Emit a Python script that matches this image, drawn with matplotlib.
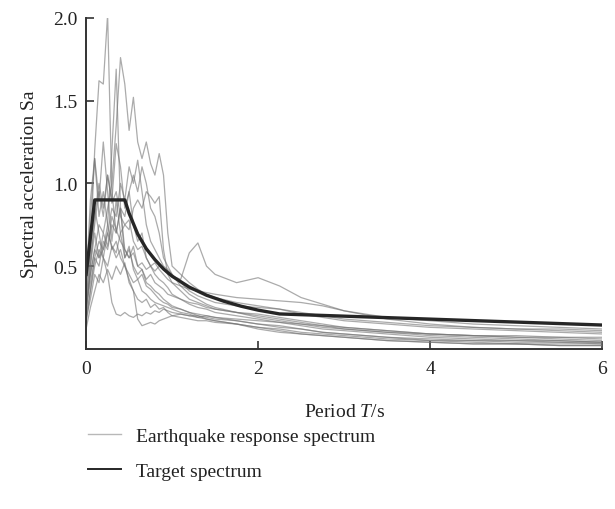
import numpy as np
import matplotlib
matplotlib.use('Agg')
import matplotlib.pyplot as plt
from matplotlib.lines import Line2D

plt.rcParams['font.family'] = ['Liberation Serif', 'DejaVu Serif']
plt.rcParams['mathtext.fontset'] = 'custom'
plt.rcParams['mathtext.rm'] = 'Liberation Serif'
plt.rcParams['mathtext.it'] = 'Liberation Serif:italic'

# period grid shared by the recorded response spectra (s)
periods = [0, 0.05, 0.1, 0.15, 0.2, 0.25, 0.3, 0.35, 0.4, 0.45, 0.5, 0.55, 0.6, 0.65,
           0.7, 0.75, 0.8, 0.85, 0.9, 0.95, 1.0, 1.1, 1.2, 1.3, 1.4, 1.5, 1.75, 2.0,
           2.25, 2.5, 2.75, 3.0, 3.5, 4.0, 4.5, 5.0, 5.5, 6.0]

# spectral acceleration of each earthquake record
eq01 = [0.30, 0.60, 1.20, 1.62, 1.60, 2.02, 0.95, 0.70, 0.85, 0.60, 0.55, 0.62, 0.50, 0.48,
        0.42, 0.45, 0.40, 0.38, 0.36, 0.33, 0.32, 0.30, 0.28, 0.27, 0.25, 0.24, 0.22, 0.20,
        0.18, 0.16, 0.14, 0.12, 0.10, 0.08, 0.07, 0.06, 0.05, 0.04]
eq02 = [0.25, 0.45, 0.60, 0.75, 0.70, 0.85, 1.00, 1.35, 1.76, 1.60, 1.32, 1.52, 1.25, 1.15,
        1.25, 1.12, 1.05, 1.18, 1.05, 0.70, 0.50, 0.45, 0.40, 0.36, 0.33, 0.31, 0.28, 0.26,
        0.24, 0.21, 0.19, 0.17, 0.15, 0.13, 0.12, 0.11, 0.10, 0.09]
eq03 = [0.20, 0.50, 0.70, 0.55, 0.60, 0.75, 1.20, 1.69, 0.85, 0.55, 0.60, 0.50, 0.45, 0.48,
        0.40, 0.38, 0.35, 0.33, 0.30, 0.28, 0.26, 0.24, 0.22, 0.20, 0.18, 0.17, 0.15, 0.13,
        0.11, 0.09, 0.08, 0.07, 0.05, 0.04, 0.03, 0.03, 0.02, 0.02]
eq04 = [0.35, 0.80, 1.15, 0.90, 1.25, 0.95, 0.65, 0.90, 0.70, 0.55, 0.62, 0.48, 0.42, 0.45,
        0.38, 0.36, 0.33, 0.30, 0.28, 0.27, 0.25, 0.24, 0.22, 0.21, 0.20, 0.19, 0.17, 0.15,
        0.13, 0.12, 0.10, 0.09, 0.07, 0.05, 0.05, 0.04, 0.04, 0.03]
eq05 = [0.30, 0.55, 0.75, 0.95, 0.80, 1.05, 0.90, 1.24, 1.10, 0.85, 0.95, 0.75, 0.65, 0.70,
        0.55, 0.50, 0.45, 0.42, 0.40, 0.37, 0.33, 0.30, 0.27, 0.25, 0.24, 0.22, 0.20, 0.18,
        0.16, 0.14, 0.12, 0.11, 0.09, 0.07, 0.06, 0.05, 0.05, 0.04]
eq06 = [0.25, 0.40, 0.55, 0.50, 0.65, 0.60, 0.75, 0.70, 0.85, 0.80, 0.95, 1.05, 0.95, 1.10,
        1.00, 0.85, 0.80, 0.70, 0.55, 0.50, 0.45, 0.40, 0.35, 0.32, 0.30, 0.28, 0.26, 0.25,
        0.24, 0.22, 0.20, 0.18, 0.16, 0.14, 0.13, 0.12, 0.12, 0.11]
eq07 = [0.18, 0.30, 0.45, 0.40, 0.55, 0.50, 0.62, 0.58, 0.70, 0.75, 0.72, 0.85, 0.90, 0.85,
        0.95, 0.92, 0.88, 0.92, 0.60, 0.45, 0.40, 0.35, 0.30, 0.28, 0.26, 0.24, 0.22, 0.21,
        0.19, 0.17, 0.15, 0.13, 0.11, 0.09, 0.08, 0.07, 0.06, 0.05]
eq08 = [0.28, 0.45, 0.60, 0.55, 0.70, 0.62, 0.80, 0.72, 0.65, 0.60, 0.55, 0.58, 0.50, 0.52,
        0.48, 0.50, 0.47, 0.50, 0.48, 0.45, 0.44, 0.42, 0.58, 0.64, 0.50, 0.45, 0.40, 0.43,
        0.38, 0.31, 0.27, 0.23, 0.18, 0.15, 0.13, 0.12, 0.11, 0.10]
eq09 = [0.40, 0.60, 0.85, 0.70, 0.55, 0.45, 0.28, 0.21, 0.20, 0.22, 0.20, 0.19, 0.21, 0.20,
        0.22, 0.21, 0.23, 0.22, 0.24, 0.23, 0.22, 0.21, 0.20, 0.20, 0.19, 0.18, 0.17, 0.15,
        0.14, 0.12, 0.10, 0.09, 0.07, 0.06, 0.05, 0.05, 0.04, 0.04]
eq10 = [0.15, 0.35, 0.55, 0.65, 0.60, 0.70, 0.62, 0.55, 0.60, 0.50, 0.42, 0.35, 0.18, 0.14,
        0.15, 0.16, 0.15, 0.17, 0.18, 0.19, 0.20, 0.21, 0.20, 0.19, 0.20, 0.19, 0.18, 0.17,
        0.16, 0.15, 0.13, 0.12, 0.10, 0.09, 0.08, 0.08, 0.07, 0.07]
eq11 = [0.22, 0.50, 0.80, 1.00, 0.85, 1.05, 0.88, 0.95, 0.80, 0.75, 0.78, 0.65, 0.60, 0.62,
        0.55, 0.50, 0.52, 0.48, 0.45, 0.42, 0.40, 0.38, 0.36, 0.35, 0.34, 0.33, 0.31, 0.30,
        0.29, 0.28, 0.26, 0.23, 0.19, 0.17, 0.15, 0.14, 0.13, 0.12]
eq12 = [0.40, 0.90, 1.15, 0.80, 0.95, 0.75, 0.60, 0.65, 0.55, 0.50, 0.45, 0.40, 0.42, 0.35,
        0.33, 0.30, 0.28, 0.27, 0.26, 0.25, 0.24, 0.22, 0.21, 0.19, 0.18, 0.17, 0.15, 0.12,
        0.10, 0.09, 0.08, 0.07, 0.05, 0.04, 0.03, 0.03, 0.02, 0.02]
eq13 = [0.20, 0.35, 0.50, 0.60, 0.55, 0.70, 0.85, 0.80, 1.00, 0.90, 1.10, 1.00, 1.14, 0.95,
        0.75, 0.65, 0.60, 0.55, 0.50, 0.48, 0.45, 0.38, 0.33, 0.30, 0.27, 0.25, 0.22, 0.19,
        0.17, 0.15, 0.14, 0.13, 0.11, 0.09, 0.08, 0.07, 0.07, 0.06]
eq14 = [0.12, 0.25, 0.35, 0.45, 0.40, 0.48, 0.42, 0.50, 0.45, 0.52, 0.40, 0.35, 0.30, 0.28,
        0.30, 0.25, 0.27, 0.24, 0.25, 0.22, 0.20, 0.19, 0.18, 0.17, 0.17, 0.16, 0.15, 0.13,
        0.12, 0.10, 0.09, 0.08, 0.06, 0.05, 0.04, 0.03, 0.03, 0.03]
records = [eq01, eq02, eq03, eq04, eq05, eq06, eq07, eq08, eq09, eq10, eq11, eq12, eq13, eq14]

# target (design) spectrum
target_T = [0, 0.1, 0.45, 0.5, 0.6, 0.7, 0.8, 0.9, 1.0, 1.2, 1.4, 1.6, 1.8, 2.0, 2.25, 6.0]
target_Sa = [0.45, 0.9, 0.9, 0.819, 0.694, 0.605, 0.539, 0.483, 0.439, 0.373, 0.324,
             0.288, 0.258, 0.234, 0.211, 0.144]

fig = plt.figure(figsize=(6.15, 5.10), dpi=100)
ax = fig.add_axes([0.140, 0.314, 0.839, 0.649])

for sa in records:
    ax.plot(periods, sa, color='0.45', lw=0.9, alpha=0.6)
ax.plot(target_T, target_Sa, color='#262626', lw=2.4)

ax.set_xlim(0, 6)
ax.set_ylim(0, 2.0)
ax.set_xticks([0, 2, 4, 6])
ax.set_yticks([0.5, 1.0, 1.5, 2.0])
ax.set_yticklabels(['0.5', '1.0', '1.5', '2.0'])
for s in ['top', 'right']:
    ax.spines[s].set_visible(False)
for s in ['left', 'bottom']:
    ax.spines[s].set_color('#333333')
    ax.spines[s].set_linewidth(1.4)
ax.tick_params(direction='in', length=6, width=1.2, color='#333333',
               labelsize=14, labelcolor='#222222', pad=8)
ax.tick_params(axis='y', pad=6)

ax.set_xlabel('Period $T$/s', fontsize=14, color='#222222', labelpad=19)
ax.set_ylabel('Spectral acceleration Sa', fontsize=14, color='#222222', labelpad=11)

handles = [Line2D([], [], color='0.72', lw=1.0),
           Line2D([], [], color='#262626', lw=1.4)]
fig.legend(handles, ['Earthquake response spectrum', 'Target spectrum'],
           loc='upper left', bbox_to_anchor=(0.115, 0.195), frameon=False,
           fontsize=14, handlelength=1.7, handletextpad=0.75, labelspacing=0.9,
           labelcolor='#222222')

fig.savefig('out.png', dpi=100)
